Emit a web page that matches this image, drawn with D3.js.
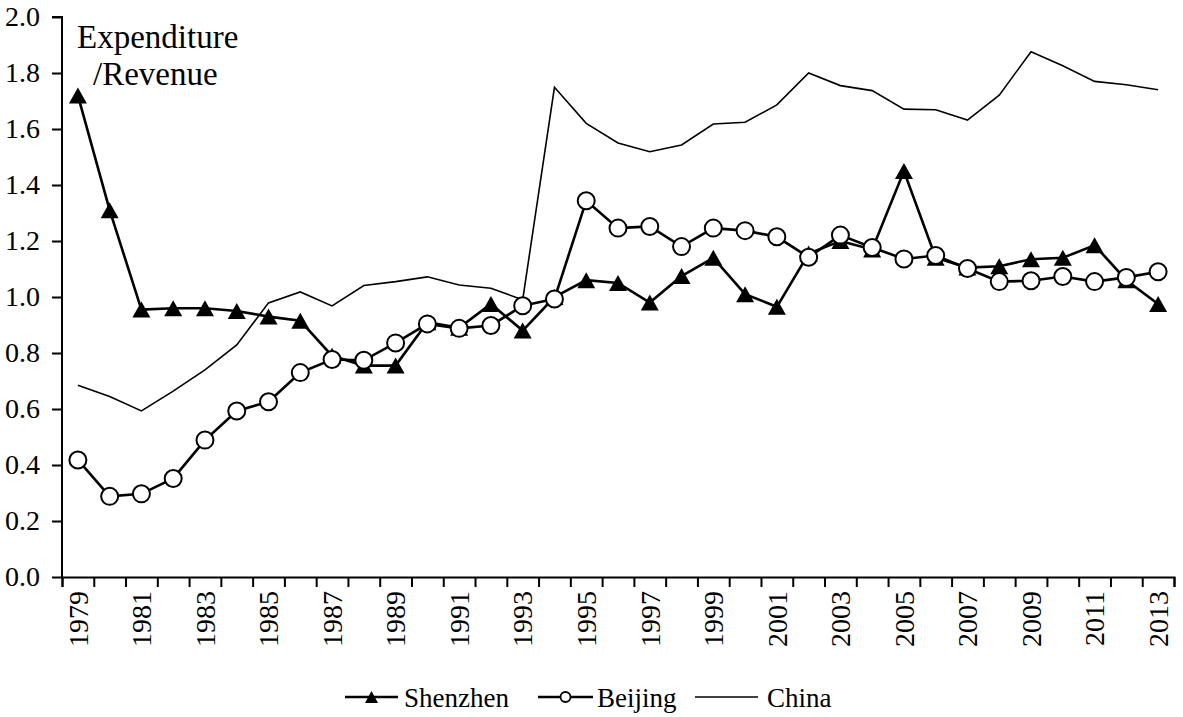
<!DOCTYPE html>
<html>
<head>
<meta charset="utf-8">
<script src="https://cdn.jsdelivr.net/npm/d3@7"></script>
<style>
  body { margin: 0; background: #fff; }
  svg text { font-family: "Liberation Serif", "Times New Roman", serif; fill: #000; }
</style>
</head>
<body>
<div id="chart"></div>
<script>
// === data ===
const years = [1979, 1980, 1981, 1982, 1983, 1984, 1985, 1986, 1987, 1988, 1989, 1990,
  1991, 1992, 1993, 1994, 1995, 1996, 1997, 1998, 1999, 2000, 2001, 2002, 2003, 2004,
  2005, 2006, 2007, 2008, 2009, 2010, 2011, 2012, 2013];
const labelYears = [1979, 1981, 1983, 1985, 1987, 1989, 1991, 1993, 1995, 1997, 1999,
  2001, 2003, 2005, 2007, 2009, 2011, 2013];
const yTicks = [0, 0.2, 0.4, 0.6, 0.8, 1.0, 1.2, 1.4, 1.6, 1.8, 2.0];

const shenzhen = [1.72, 1.31, 0.955, 0.96, 0.96, 0.95, 0.93, 0.915, 0.79, 0.755, 0.755, 0.91,
  0.89, 0.975, 0.88, 1.0, 1.06, 1.05, 0.98, 1.075, 1.14, 1.01, 0.965, 1.155, 1.20, 1.17,
  1.45, 1.14, 1.105, 1.11, 1.135, 1.14, 1.185, 1.06, 0.975];
const beijing = [0.418, 0.288, 0.297, 0.352, 0.489, 0.593, 0.626, 0.73, 0.777, 0.774, 0.836, 0.904,
  0.888, 0.898, 0.969, 0.993, 1.344, 1.246, 1.252, 1.18, 1.246, 1.237, 1.215, 1.142, 1.221, 1.177,
  1.136, 1.148, 1.102, 1.055, 1.058, 1.073, 1.055, 1.07, 1.09];
const china = [0.685, 0.645, 0.593, 0.664, 0.74, 0.829, 0.979, 1.018, 0.968, 1.041, 1.055, 1.072,
  1.043, 1.031, 0.99, 1.749, 1.62, 1.55, 1.519, 1.543, 1.618, 1.624, 1.686, 1.80, 1.755, 1.737,
  1.671, 1.669, 1.632, 1.721, 1.876, 1.826, 1.77, 1.758, 1.74];

// === sizing ===
const outerW = 1183, outerH = 717;
const plot = { left: 62, right: 1174, top: 17, bottom: 577 };

const svg = d3.select("#chart").append("svg")
  .attr("width", outerW)
  .attr("height", outerH);

// scales
const x = d3.scaleBand().domain(years).range([plot.left, plot.right]).padding(0);
const xc = yr => x(yr) + x.bandwidth() / 2;
const y = d3.scaleLinear().domain([0, 2]).range([plot.bottom, plot.top]);

// y axis
const yAxisG = svg.append("g")
  .attr("transform", `translate(${plot.left},0)`)
  .call(d3.axisLeft(y).tickValues(yTicks).tickFormat(d3.format(".1f")).tickSize(10).tickPadding(12));

// x axis: ticks on category boundaries, labels every other year
const boundaries = years.map(yr => x(yr)).concat([plot.right]);
const xb = d3.scaleLinear().domain([plot.left, plot.right]).range([plot.left, plot.right]);
const xAxisG = svg.append("g")
  .attr("transform", `translate(0,${plot.bottom})`)
  .call(d3.axisBottom(xb).tickValues(boundaries).tickFormat("").tickSize(10));

svg.append("g")
  .selectAll("text")
  .data(labelYears)
  .join("text")
  .attr("transform", d => `translate(${xc(d)},591) rotate(-90)`)
  .attr("text-anchor", "end")
  .attr("dy", "0.35em")
  .style("font-size", "28px")
  .text(d => d);

[yAxisG, xAxisG].forEach(a => {
  a.select(".domain").attr("stroke", "#000").attr("stroke-width", 2);
  a.selectAll(".tick line").attr("stroke", "#000").attr("stroke-width", 2);
  a.selectAll(".tick text")
    .style("font-family", "'Liberation Serif', 'Times New Roman', serif")
    .style("font-size", "28px");
});
yAxisG.select(".domain").attr("d", `M-10,${y(2)}H0V${y(0)}`);

// axis title inside plot
svg.append("text")
  .attr("x", 77).attr("y", 48)
  .style("font-size", "33px")
  .text("Expenditure");
svg.append("text")
  .attr("x", 93).attr("y", 85)
  .style("font-size", "33px")
  .text("/Revenue");

// lines
const line = vals => d3.line()
  .x((d, i) => xc(years[i]))
  .y(d => y(d))(vals);

svg.append("path")
  .attr("d", line(china))
  .attr("fill", "none").attr("stroke", "#000").attr("stroke-width", 1.6);

svg.append("path")
  .attr("d", line(shenzhen))
  .attr("fill", "none").attr("stroke", "#000").attr("stroke-width", 2.6);

const tri = (w, h) => `M0,${-h / 2}L${w / 2},${h / 2}L${-w / 2},${h / 2}Z`;

svg.append("g").selectAll("path")
  .data(shenzhen)
  .join("path")
  .attr("transform", (d, i) => `translate(${xc(years[i])},${y(d)})`)
  .attr("d", tri(18, 16))
  .attr("fill", "#000");

svg.append("path")
  .attr("d", line(beijing))
  .attr("fill", "none").attr("stroke", "#000").attr("stroke-width", 2.6);

svg.append("g").selectAll("circle")
  .data(beijing)
  .join("circle")
  .attr("cx", (d, i) => xc(years[i]))
  .attr("cy", d => y(d))
  .attr("r", 8.5)
  .attr("fill", "#fff")
  .attr("stroke", "#000")
  .attr("stroke-width", 2);

// legend
const legY = 697;
const leg = svg.append("g");
const legendItems = [
  { name: "Shenzhen", x0: 345, x1: 398, tx: 404, marker: "tri", w: 2.6 },
  { name: "Beijing", x0: 538, x1: 593, tx: 597, marker: "circle", w: 2.6 },
  { name: "China", x0: 695, x1: 758, tx: 767, marker: null, w: 1.6 }
];
legendItems.forEach(it => {
  leg.append("line")
    .attr("x1", it.x0).attr("x2", it.x1)
    .attr("y1", legY).attr("y2", legY)
    .attr("stroke", "#000").attr("stroke-width", it.w);
  const mx = (it.x0 + it.x1) / 2;
  if (it.marker === "tri") {
    leg.append("path")
      .attr("transform", `translate(${mx},${legY})`)
      .attr("d", tri(13, 12))
      .attr("fill", "#000");
  } else if (it.marker === "circle") {
    leg.append("circle")
      .attr("cx", mx).attr("cy", legY).attr("r", 5)
      .attr("fill", "#fff").attr("stroke", "#000").attr("stroke-width", 1.8);
  }
  leg.append("text")
    .attr("x", it.tx).attr("y", legY + 10)
    .style("font-size", "27px")
    .text(it.name);
});
</script>
</body>
</html>
